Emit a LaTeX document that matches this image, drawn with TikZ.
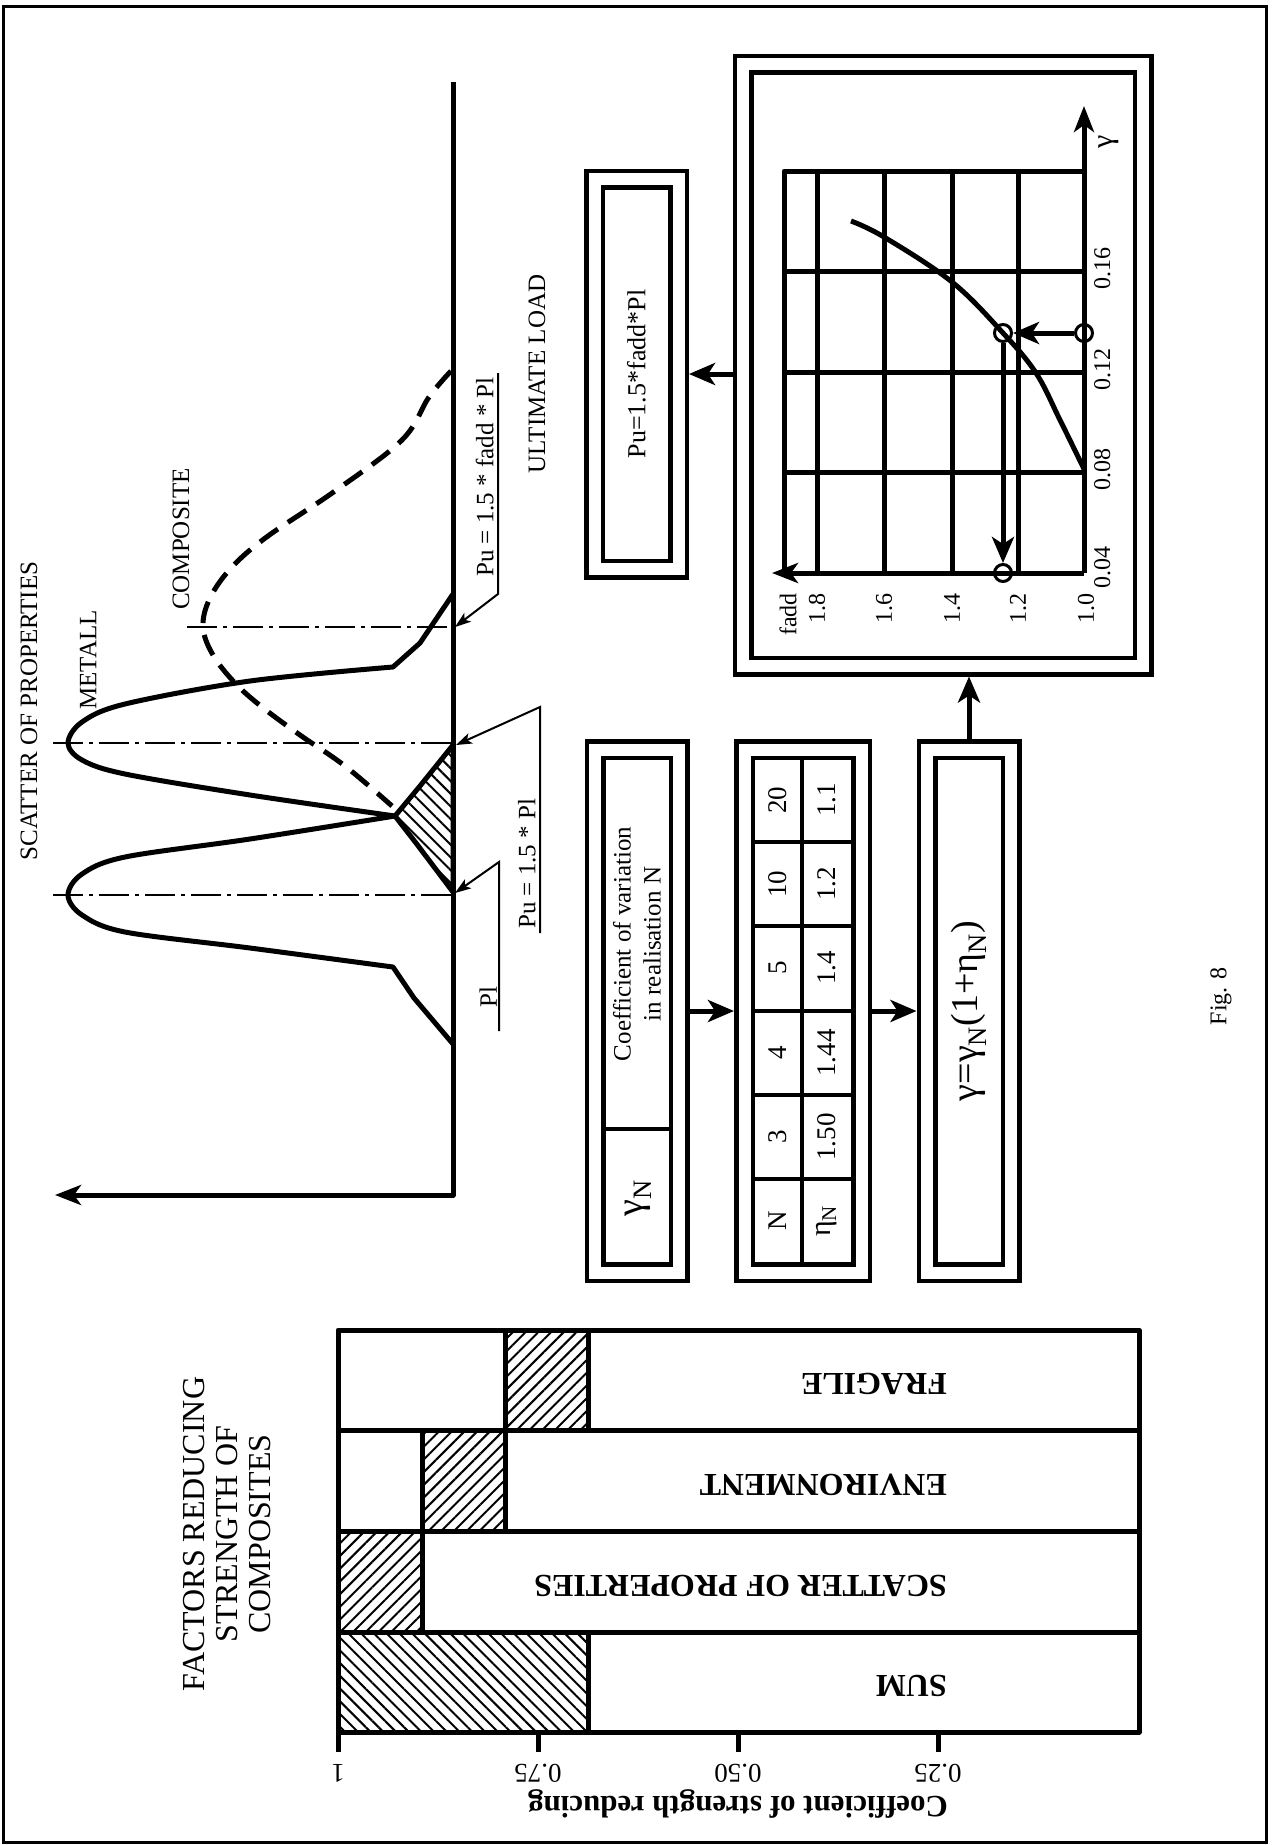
\documentclass[tikz,border=0pt]{standalone}
\usepackage{fontspec}
\setmainfont{Liberation Serif}
\usetikzlibrary{arrows.meta,patterns.meta}

\tikzset{
  heavy/.style={line width=5pt, line join=round},
  dblbox/.style={draw, line width=4.5pt, double, double distance=12pt, inner sep=0pt, outer sep=10.5pt},
  arr/.style={line width=5pt, -{Stealth[length=26pt,width=22pt,inset=7pt]}},
  axisarr/.style={heavy, -{Stealth[length=26pt,width=20pt,inset=7pt]}},
  leader/.style={line width=2pt, line join=miter, -{Stealth[length=16pt,width=11pt,inset=4pt]}},
  centreline/.style={line width=2pt, dash pattern=on 30pt off 6pt on 4pt off 6pt},
  lbl/.style={rotate=90, font=\fontsize{25}{30}\selectfont, inner sep=2pt},
  ticklbl/.style={rotate=90, font=\fontsize{24}{26}\selectfont, inner sep=1pt},
  cell/.style={rotate=90, font=\fontsize{27}{28}\selectfont, inner sep=0pt},
  barlbl/.style={rotate=180, font=\fontsize{32}{36}\selectfont\bfseries, inner sep=0pt},
  hatchR/.style={pattern={Lines[angle=45,distance=9pt,line width=2pt]}},
  hatchL/.style={pattern={Lines[angle=-45,distance=9pt,line width=2pt]}},
  circ/.style={circle, draw, line width=3pt, minimum size=17pt, inner sep=0pt},
}

\begin{document}
\begin{tikzpicture}[x=1pt,y=-1pt]
  \useasboundingbox (0,0) rectangle (1272,1845);
  \draw[line width=3pt] (3,6) rectangle (1266,1842);

  % scatter of properties
  \draw[axisarr] (453,82) -- (453,1195) -- (55,1195);
  \draw[centreline] (53,895) -- (453,895);
  \draw[centreline] (53,743) -- (453,743);
  \draw[centreline] (187,627) -- (453,627);
  \draw[heavy, hatchL] (395,816) -- (420,786) -- (453,745) -- (453,892) -- (416,843) -- cycle;
  \draw[heavy] (453,1044) -- (414,998) -- (393,967)
    -- plot[smooth, tension=0.55] coordinates {(393,967) (250,948) (125,932) (82,915) (68,895) (82,874) (125,857) (250,839) (395,816)}
    -- plot[smooth, tension=0.55] coordinates {(395,816) (250,795) (125,774) (82,760) (68,743) (82,722) (125,704) (250,681) (393,667)}
    -- (420,643) -- (453,594);
  \draw[heavy, dash pattern=on 22pt off 12pt] plot[smooth, tension=0.6] coordinates
    {(451,371) (429,397) (402,440) (335,491) (268,536) (232,567) (210,598) (203,627) (213,655) (235,683) (262,707) (300,735) (345,766) (392,806)};

  \node[lbl] (scat) at (29,711) {SCATTER OF PROPERTIES};
  \node[lbl] (metal) at (88,660) {METALL};
  \node[lbl] (comp) at (181,539) {COMPOSITE};
  \node[lbl, anchor=south] (pl) at (499,997) {Pl};
  \node[lbl, anchor=south west, inner sep=4pt] (pu) at (540,933) {Pu = 1.5 * Pl};
  \node[lbl, anchor=south west, inner sep=4pt] (puf) at (498,581) {Pu = 1.5 * fadd * Pl};
  \coordinate (pltip) at (455,893);
  \coordinate (putip) at (456,745);
  \coordinate (puftip) at (455,627);
  \coordinate (puknee) at (540,707);
  \coordinate (pufknee) at (498,594);
  \draw[leader] ([yshift=-34pt]pl.south) -- ([yshift=135pt]pl.south) -- (pltip);
  \draw[leader] (pu.south west) -- (pu.south west |- puknee) -- (putip);
  \draw[leader] (puf.south east) -- (puf.south east |- pufknee) -- (puftip);

  \node[lbl] (ulbl) at (537,374) {ULTIMATE LOAD};

  % boxes
  \node[dblbox, minimum width=84pt, minimum height=390pt] (ult) at (636.5,374) {};
  \node[lbl, font=\fontsize{26}{28}\selectfont] (ulttxt) at (ult.center) {Pu=1.5*fadd*Pl};
  \node[dblbox, minimum width=400pt, minimum height=602pt] (chart) at (943,365) {};
  \node[dblbox, minimum width=84pt, minimum height=523pt] (gn) at (637,1011) {};
  \node[dblbox, minimum width=117pt, minimum height=523pt] (tab) at (803,1011) {};
  \node[dblbox, minimum width=84pt, minimum height=523pt] (form) at (969,1011) {};

  \draw[line width=4.5pt] (603,1129) -- (671,1129);
  \node[lbl, align=center] (coef) at (637,944) {Coefficient of variation\\in realisation N};
  \node[rotate=90, font=\fontsize{38}{40}\selectfont] (gnl) at (638,1198) {γ\textsubscript{N}};

  \draw[line width=4.5pt] (802,758) -- (802,1264);
  \foreach \ry in {842,926,1011,1095,1179}
    \draw[line width=4.5pt] (753,\ry) -- (853,\ry);
  \foreach \ry/\nv/\ev [count=\i] in {800/20/1.1, 884/10/1.2, 968/5/1.4, 1053/4/1.44, 1137/3/1.50} {
    \node[cell] (nv\i) at (778,\ry) {\nv};
    \node[cell] (ev\i) at (827,\ry) {\ev};
  }
  \node[cell] (nhead) at (778,1221) {N};
  \node[cell, font=\fontsize{30}{32}\selectfont] (ehead) at (827,1221) {η\textsubscript{N}};

  \node[rotate=90, font=\fontsize{38}{40}\selectfont] (formtxt) at (form.center) {γ=γ\textsubscript{N}(1+η\textsubscript{N})};

  \draw[arr] (gn.east) -- (tab.west);
  \draw[arr] (tab.east) -- (form.west);
  \draw[arr] (form.north) -- (form.north |- chart.south);
  \draw[arr] (chart.west |- ult.east) -- (ult.east);

  % fadd chart
  \draw[heavy] (1084,171) -- (784,171) -- (784,573);
  \foreach \gx in {817,884,952,1018}
    \draw[heavy] (\gx,171) -- (\gx,573);
  \foreach \gy in {271,372,472}
    \draw[heavy] (784,\gy) -- (1084,\gy);
  \draw[axisarr] (1084,573) -- (1084,106);
  \draw[axisarr] (1084,573) -- (772,573);
  \draw[heavy] plot[smooth, tension=0.6] coordinates {(1084,469) (1060,420) (1036,373) (1003,333) (952,282) (884,237) (851,221)};
  \node[circ] (c1) at (1084,333) {};
  \node[circ] (c2) at (1003,333) {};
  \node[circ] (c3) at (1003,573) {};
  \draw[arr] (c1) -- (c2);
  \draw[arr] (c2) -- (c3);

  \node[rotate=90, font=\fontsize{30}{32}\selectfont] (gam) at (1109,142) {γ};
  \node[ticklbl, anchor=east] (fadd) at (788,592) {fadd};
  \foreach \fx/\fv [count=\i] in {817/1.8, 884/1.6, 952/1.4, 1018/1.2, 1086/1.0}
    \node[ticklbl, anchor=east] (fl\i) at (\fx,592) {\fv};
  \foreach \gy/\gv [count=\i] in {268/0.16, 369/0.12, 469/0.08, 567/0.04}
    \node[ticklbl, anchor=north] (gl\i) at (1093,\gy) {\gv};

  \node[lbl, font=\fontsize{24}{28}\selectfont] (fig) at (1221,996) {Fig. 8};

  % factors reducing strength
  \node[rotate=90, align=center, font=\fontsize{32}{33}\selectfont] (ttl) at (227,1534) {FACTORS REDUCING\\STRENGTH OF\\COMPOSITES};
  \draw[heavy, hatchR] (505,1330) rectangle (588,1430);
  \draw[heavy, hatchR] (422,1430) rectangle (505,1531);
  \draw[heavy, hatchR] (338,1531) rectangle (422,1632);
  \draw[heavy, hatchL] (338,1632) rectangle (588,1732);
  \draw[heavy] (338,1330) rectangle (1139,1732);
  \foreach \ry in {1430,1531,1632}
    \draw[heavy] (338,\ry) -- (1139,\ry);
  \foreach \tx/\tv [count=\i] in {338/1, 538/0.75, 738/0.50, 938/0.25} {
    \draw[heavy] (\tx,1732) -- (\tx,1752);
    \node[rotate=180, font=\fontsize{27}{30}\selectfont] (tick\i) at (\tx,1773) {\tv};
  }
  \node[rotate=180, font=\fontsize{31}{34}\selectfont\bfseries] (coefax) at (738,1804) {Coefficient of strength reducing};
  \foreach \ly/\lt [count=\i] in {1384/FRAGILE, 1485/ENVIRONMENT, 1586/SCATTER OF PROPERTIES, 1686/SUM}
    \node[barlbl, anchor=west] (bar\i) at (947,\ly) {\lt};
\end{tikzpicture}
\end{document}
